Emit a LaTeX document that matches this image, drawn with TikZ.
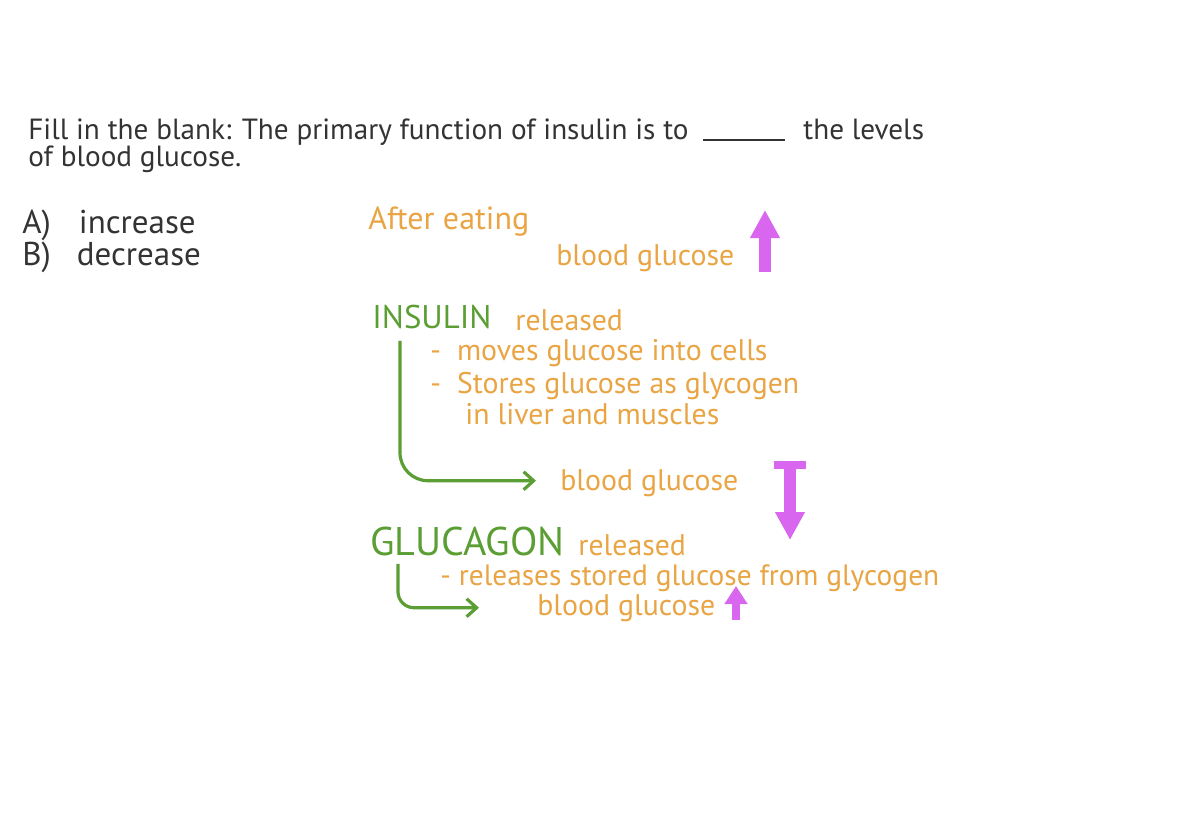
\documentclass[tikz,border=0pt]{standalone}
\usepackage{fontspec}
\setmainfont{PT Sans}
\usetikzlibrary{arrows.meta, positioning, calc}
\definecolor{inkGray}{HTML}{333333}
\definecolor{noteOrange}{HTML}{E9A443}
\definecolor{noteGreen}{HTML}{5B9E33}
\definecolor{noteMagenta}{HTML}{D866EE}

\tikzset{
  qtext/.style={anchor=base west, inner sep=0pt, text=inkGray, font=\fontsize{14.6}{17}\selectfont},
  otext/.style={anchor=base west, inner sep=0pt, text=noteOrange, font=\fontsize{14.9}{17}\selectfont},
  gtext/.style={anchor=base west, inner sep=0pt, text=noteGreen, font=\fontsize{16.4}{19}\selectfont},
  flow/.style={draw=noteGreen, line width=1.6pt, rounded corners=14pt, -{Straight Barb[length=5pt, width=9pt]}},
  bigarrow/.style={draw=noteMagenta, line width=6pt, -{Triangle[length=14pt, width=14pt]}}
}

\begin{document}
\begin{tikzpicture}[x=0.5pt, y=-0.5pt]
  \useasboundingbox (0,0) rectangle (1200,830);
  % question
  \node[qtext] (q1) at (28,139) {Fill in the blank: The primary function of insulin is to};
  \draw[inkGray, line width=1.2pt] (703,140) -- (785,140);
  \node[qtext] (q1b) at (803,139) {the levels};
  \node[qtext] (q2) at (28,166) {of blood glucose.};
  \node[qtext, font=\fontsize{16.5}{19}\selectfont] (optA) at (22,233) {A)\hspace{14pt}increase};
  \node[qtext, font=\fontsize{16.5}{19}\selectfont] (optB) at (22,265) {B)\hspace{13pt}decrease};

  % after eating
  \node[otext, font=\fontsize{16}{19}\selectfont] (eat) at (368,229) {After eating};
  \node[otext] (bg1) at (556,265) {blood glucose};
  \coordinate (up1s) at (765,272);
  \coordinate (up1e) at (765,210);
  \draw[bigarrow] (up1s) -- (up1e);

  % insulin
  \node[gtext] (insulin) at (372,328) {INSULIN};
  \node[otext] (rel1) at (515,330) {released};
  \node[otext] (ins1) at (430,360) {-\ \ moves glucose into cells};
  \node[otext] (ins2) at (430,393) {-\ \ Stores glucose as glycogen};
  \node[otext] (ins3) at (465,424) {in liver and muscles};
  \node[otext] (bg2) at (560,490) {blood glucose};
  \coordinate (dn1s) at (790,465);
  \coordinate (dn1e) at (790,540);
  \draw[noteMagenta, line width=4pt] (774,465) -- (806,465);
  \draw[bigarrow] (dn1s) -- (dn1e);
  \draw[flow] ($(insulin.south west)+(28,12)$) |- ($(bg2.west)+(-24,-2)$);

  % glucagon
  \node[gtext, font=\fontsize{20}{24}\selectfont] (glucagon) at (370,555) {GLUCAGON};
  \node[otext] (rel2) at (578,555) {released};
  \node[otext, font=\fontsize{14.7}{17}\selectfont] (glu1) at (440,585) {-\ releases stored glucose from glycogen};
  \node[otext] (bg3) at (537,615) {blood glucose};
  \coordinate (up2s) at (736,620);
  \coordinate (up2e) at (736,586);
  \draw[bigarrow, line width=4pt, -{Triangle[length=9pt, width=11pt]}] (up2s) -- (up2e);
  \draw[flow, rounded corners=8pt] ($(glucagon.south west)+(28,8)$) |- ($(bg3.west)+(-58,0)$);
\end{tikzpicture}
\end{document}
